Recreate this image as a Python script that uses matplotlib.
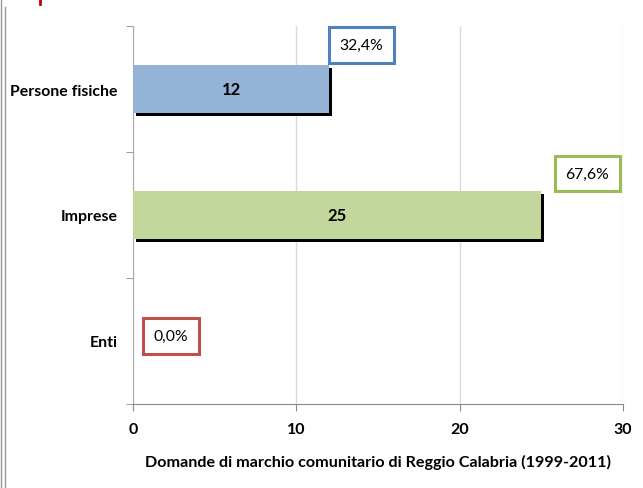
import matplotlib.pyplot as plt
import matplotlib.patheffects as pe
from matplotlib.lines import Line2D

categorie = ["Enti", "Imprese", "Persone fisiche"]
domande = [0, 25, 12]
percentuali = ["0,0%", "67,6%", "32,4%"]
colori = ["#C0504D", "#C3D69B", "#95B3D7"]
bordi = ["#C0504D", "#9BBB59", "#4F81BD"]
tick_x = [0, 10, 20, 30]

plt.rcParams['font.family'] = ['Lato', 'DejaVu Sans']

fig = plt.figure(figsize=(6.43, 4.89), dpi=100)
ax = fig.add_axes([133/643, 84/489, 490/643, 378/489])

y = list(range(len(categorie)))
ombra = [pe.SimplePatchShadow(offset=(2, -2.4), shadow_rgbFace='black', alpha=1), pe.Normal()]
barre = ax.barh(y, domande, height=0.38, color=colori, zorder=3)
for b in barre:
    b.set_path_effects(ombra)

# valori dentro le barre
for i, v in enumerate(domande):
    if v > 0:
        ax.text(v / 2, i, str(v), ha='center', va='center', fontsize=12,
                fontweight='bold', zorder=5)

# etichette percentuali nei riquadri
pos_lab = [(2.33, 0.04), (27.8, 1.33), (14.0, 2.35)]
for i, (px, py) in enumerate(pos_lab):
    ax.text(px, py, percentuali[i], ha='center', va='center', fontsize=11.3,
            zorder=6,
            bbox=dict(boxstyle='square,pad=0.68', fc='white', ec=bordi[i], lw=2.2))

ax.set_xlim(0, 30)
ax.set_ylim(-0.5, 2.5)
ax.set_xticks(tick_x)
ax.set_xticklabels([str(t) for t in tick_x], fontsize=11.5, fontweight='bold')
ax.set_yticks(y)
ax.set_yticklabels(categorie, fontsize=11.4, fontweight='bold')
ax.set_yticks([-0.5, 0.5, 1.5, 2.5], minor=True)
ax.tick_params(axis='y', which='major', length=0, pad=11)
ax.tick_params(axis='y', which='minor', length=5, color='#888888')
ax.tick_params(axis='x', length=5, color='#888888', pad=8)

ax.grid(axis='x', color='#D9D9D9', lw=1, zorder=0)
for s in ['top', 'right']:
    ax.spines[s].set_visible(False)
ax.spines['left'].set_color('#AAAAAA')
ax.spines['bottom'].set_color('#888888')

ax.set_xlabel("Domande di marchio comunitario di Reggio Calabria (1999-2011)",
              fontsize=11.6, fontweight='bold', labelpad=13)

# cornice a sinistra e segno rosso in alto
fig.add_artist(Line2D([1/643, 1/643], [0, 1], color='#999999', lw=1))
fig.add_artist(Line2D([5/643, 5/643], [0, 1 - 8/489], color='#999999', lw=1))
fig.add_artist(Line2D([40/643, 40/643], [1, 1 - 5/489], color='#CC0000', lw=2))

fig.savefig("out.png", dpi=100)
